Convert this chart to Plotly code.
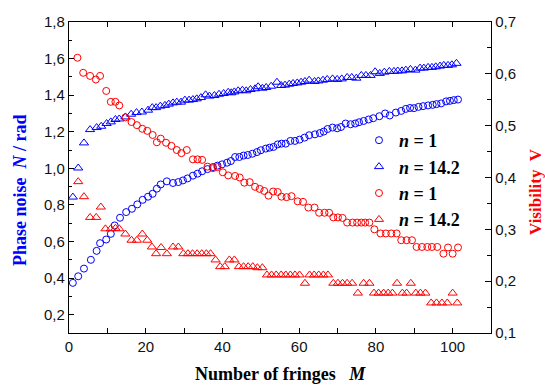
import plotly.graph_objects as go

# ---------------- data ----------------
# Phase noise N, n = 1 (blue circles, left axis)
m_noise_n1 = [1.0, 2.4, 3.9, 5.7, 7.2, 8.1, 9.7, 10.9, 11.9, 13.3, 14.9, 16.4, 17.8, 19.2, 20.6,
              21.8, 22.9, 23.9, 25.5, 27.1, 28.5, 29.7, 30.9, 32.3, 33.5, 34.7, 36.1, 37.5, 38.7,
              39.9, 41.2, 42.2, 43.3, 44.4, 45.5, 46.6, 47.8, 49.0, 50.0, 51.3, 52.3, 53.3, 54.4,
              55.4, 56.5, 57.7, 58.9, 60.1, 61.4, 62.6, 64.1, 65.4, 66.4, 67.4, 68.7, 69.9, 70.9,
              72.1, 73.4, 74.6, 75.6, 76.8, 78.1, 79.3, 80.9, 82.4, 83.6, 85.2, 86.6, 87.8, 88.9,
              89.9, 91.1, 92.3, 93.6, 94.8, 95.8, 97.0, 98.3, 99.3, 100.3, 101.4]
noise_n1 = [0.374, 0.410, 0.452, 0.500, 0.549, 0.591, 0.611, 0.642, 0.688, 0.730, 0.761, 0.779,
            0.803, 0.828, 0.845, 0.861, 0.889, 0.912, 0.929, 0.920, 0.925, 0.934, 0.945, 0.960,
            0.971, 0.984, 0.996, 1.007, 1.015, 1.022, 1.031, 1.040, 1.062, 1.062, 1.070, 1.073,
            1.080, 1.089, 1.099, 1.108, 1.113, 1.117, 1.131, 1.135, 1.135, 1.150, 1.150, 1.157,
            1.168, 1.181, 1.186, 1.193, 1.201, 1.215, 1.223, 1.219, 1.226, 1.245, 1.241, 1.245,
            1.252, 1.259, 1.267, 1.274, 1.285, 1.300, 1.289, 1.305, 1.314, 1.325, 1.330, 1.329,
            1.336, 1.340, 1.344, 1.347, 1.351, 1.355, 1.366, 1.369, 1.373, 1.376]

# Phase noise N, n = 14.2 (blue triangles, left axis)
m_noise_n14 = [1.0, 2.4, 3.9, 5.5, 7.2, 8.4, 9.8, 10.9, 12.1, 13.1, 14.7, 16.2, 17.6, 19.0, 20.6,
               21.7, 22.7, 23.8, 25.0, 26.0, 27.1, 28.1, 29.2, 30.2, 31.3, 32.3, 33.3, 34.4, 35.6,
               36.6, 37.9, 39.1, 40.3, 41.5, 42.3, 43.1, 44.1, 45.2, 46.2, 47.3, 48.5, 49.3, 50.4,
               51.4, 52.7, 54.2, 55.3, 56.3, 57.4, 58.4, 59.5, 60.5, 61.5, 62.6, 64.0, 65.0, 66.2,
               67.3, 68.7, 69.9, 71.1, 72.5, 73.7, 74.9, 76.2, 77.4, 78.6, 79.8, 81.0, 82.2, 83.5,
               84.7, 85.7, 86.8, 87.8, 89.0, 90.3, 91.5, 92.5, 93.6, 94.6, 95.6, 96.7, 97.7, 98.8,
               99.8, 101.0]
noise_n14 = [0.843, 1.002, 1.139, 1.212, 1.223, 1.230, 1.245, 1.254, 1.267, 1.270, 1.281, 1.296,
             1.305, 1.308, 1.318, 1.332, 1.332, 1.340, 1.344, 1.351, 1.358, 1.362, 1.362, 1.373,
             1.373, 1.376, 1.380, 1.387, 1.402, 1.395, 1.398, 1.405, 1.409, 1.416, 1.413, 1.418,
             1.424, 1.427, 1.424, 1.431, 1.435, 1.446, 1.438, 1.442, 1.449, 1.471, 1.453, 1.455,
             1.460, 1.464, 1.467, 1.471, 1.475, 1.482, 1.475, 1.478, 1.482, 1.486, 1.489, 1.486,
             1.489, 1.497, 1.497, 1.493, 1.508, 1.508, 1.508, 1.528, 1.519, 1.526, 1.530, 1.530,
             1.532, 1.533, 1.537, 1.541, 1.537, 1.548, 1.548, 1.552, 1.552, 1.555, 1.559, 1.563,
             1.563, 1.566, 1.574]

# Visibility V, n = 1 (red circles, right axis)
m_vis_n1 = [2.2, 3.7, 5.5, 7.0, 8.1, 9.7, 10.9, 12.1, 13.1, 14.7, 16.3, 17.7, 19.1, 20.4, 21.8,
            22.9, 23.9, 25.3, 26.7, 28.1, 29.3, 30.7, 32.3, 33.5, 34.7, 36.1, 37.5, 38.7, 40.1,
            41.5, 43.3, 44.5, 45.7, 47.1, 48.5, 49.7, 50.9, 52.0, 53.2, 54.4, 55.4, 56.7, 58.0,
            59.6, 61.0, 62.4, 64.0, 65.2, 66.6, 67.8, 68.9, 70.1, 71.3, 72.5, 73.9, 75.1, 76.2,
            77.2, 78.3, 79.6, 81.2, 82.6, 84.0, 85.4, 86.6, 88.0, 89.4, 90.6, 92.0, 93.4, 94.6,
            96.0, 97.6, 98.8, 100.0, 101.4]
vis_n1 = [0.631, 0.602, 0.596, 0.589, 0.596, 0.567, 0.546, 0.546, 0.539, 0.516, 0.507, 0.501,
          0.494, 0.490, 0.482, 0.468, 0.475, 0.467, 0.461, 0.453, 0.447, 0.453, 0.435, 0.435,
          0.434, 0.421, 0.418, 0.420, 0.410, 0.404, 0.403, 0.400, 0.390, 0.391, 0.382, 0.378,
          0.374, 0.365, 0.373, 0.372, 0.363, 0.362, 0.364, 0.354, 0.353, 0.342, 0.342, 0.332,
          0.332, 0.332, 0.323, 0.323, 0.322, 0.313, 0.313, 0.313, 0.313, 0.313, 0.313, 0.300,
          0.292, 0.292, 0.292, 0.292, 0.279, 0.279, 0.279, 0.266, 0.266, 0.266, 0.266, 0.266,
          0.253, 0.265, 0.253, 0.265]

# Visibility V, n = 14.2 (red triangles, right axis)
m_vis_n14 = [2.4, 3.9, 5.5, 7.1, 8.3, 9.5, 10.9, 12.1, 13.1, 14.7, 16.3, 17.7, 19.1, 20.4, 21.6,
             22.7, 24.0, 25.5, 27.1, 28.5, 29.8, 31.0, 32.2, 33.4, 34.6, 35.8, 36.9, 38.2, 39.4,
             40.6, 41.8, 43.1, 44.3, 45.5, 46.7, 47.9, 49.1, 50.4, 51.6, 52.8, 54.0, 55.3, 56.5,
             57.7, 58.9, 60.1, 61.5, 62.7, 63.9, 65.1, 66.3, 67.5, 68.9, 70.1, 71.3, 72.5, 73.8,
             75.3, 76.8, 78.3, 79.5, 80.7, 82.0, 83.2, 84.3, 85.5, 86.9, 88.0, 89.1, 90.4, 91.6,
             92.9, 94.4, 95.8, 97.2, 98.6, 100.0, 101.2]
vis_n14 = [0.392, 0.363, 0.323, 0.323, 0.343, 0.301, 0.301, 0.302, 0.301, 0.291, 0.279, 0.279,
           0.291, 0.279, 0.266, 0.253, 0.265, 0.253, 0.266, 0.266, 0.253, 0.253, 0.253, 0.253,
           0.253, 0.253, 0.253, 0.241, 0.228, 0.228, 0.241, 0.241, 0.228, 0.228, 0.228, 0.228,
           0.226, 0.226, 0.212, 0.212, 0.212, 0.212, 0.212, 0.212, 0.212, 0.212, 0.196, 0.212,
           0.212, 0.212, 0.212, 0.212, 0.196, 0.196, 0.196, 0.196, 0.196, 0.177, 0.196, 0.196,
           0.177, 0.177, 0.177, 0.177, 0.177, 0.196, 0.177, 0.177, 0.196, 0.177, 0.177, 0.177,
           0.158, 0.158, 0.158, 0.158, 0.177, 0.158]

legend_names = ["<b><i>n</i> = 1</b>", "<b><i>n</i> = 14.2</b>",
                "<b><i>n</i> = 1</b>", "<b><i>n</i> = 14.2</b>"]

BLUE = "#0000ff"
RED = "#ff0000"
SERIF = "Liberation Serif, Times New Roman, serif"
SANS = "Liberation Sans, Arial, sans-serif"

fig = go.Figure()
fig.add_trace(go.Scatter(x=m_noise_n1, y=noise_n1, mode="markers", name=legend_names[0],
                         marker=dict(symbol="circle-open", size=7, color=BLUE, line=dict(width=1))))
fig.add_trace(go.Scatter(x=m_noise_n14, y=noise_n14, mode="markers", name=legend_names[1],
                         marker=dict(symbol="triangle-up-open", size=8, color=BLUE, line=dict(width=1))))
fig.add_trace(go.Scatter(x=m_vis_n1, y=vis_n1, mode="markers", name=legend_names[2], yaxis="y2",
                         marker=dict(symbol="circle-open", size=7, color=RED, line=dict(width=1))))
fig.add_trace(go.Scatter(x=m_vis_n14, y=vis_n14, mode="markers", name=legend_names[3], yaxis="y2",
                         marker=dict(symbol="triangle-up-open", size=8, color=RED, line=dict(width=1))))

axis_common = dict(showline=True, linecolor="black", linewidth=1.3, ticks="inside",
                   tickcolor="black", tickwidth=1, showgrid=False, zeroline=False,
                   tickfont=dict(family=SANS, size=15, color="#111"))

fig.update_layout(
    width=545, height=387,
    margin=dict(l=69, r=54, t=22, b=54),
    paper_bgcolor="white", plot_bgcolor="white",
    separators=",.",
    showlegend=True,
    legend=dict(x=(359 - 69) / 422, y=(333 - 122) / 311, xanchor="left", yanchor="top",
                bgcolor="rgba(0,0,0,0)", borderwidth=0, itemwidth=30,
                font=dict(family=SERIF, size=18, color="black"), tracegroupgap=0),
    xaxis=dict(range=[0, 110], dtick=20, tick0=0, ticklen=5, mirror="ticks",
               minor=dict(dtick=10, ticklen=5, ticks="inside", tickcolor="black"),
               **axis_common),
    yaxis=dict(range=[0.1, 1.8], dtick=0.2, tick0=0.2, tickformat=".1f", ticklen=5,
               minor=dict(dtick=0.1, ticklen=3, ticks="inside", tickcolor="black"),
               **axis_common),
    yaxis2=dict(range=[0.1, 0.7], dtick=0.1, tick0=0.1, tickformat=".1f", ticklen=6,
                overlaying="y", side="right",
                minor=dict(dtick=0.05, ticklen=4, ticks="inside", tickcolor="black"),
                **axis_common),
    annotations=[
        dict(text="Phase noise  <i>N</i> / rad", xref="paper", yref="paper",
             x=(20 - 69) / 422, y=(333 - 190) / 311, xanchor="center", yanchor="middle",
             textangle=-90, showarrow=False,
             font=dict(family=SERIF, size=18, color=BLUE, weight="bold")),
        dict(text="Visibility  V", xref="paper", yref="paper",
             x=(535 - 69) / 422, y=(333 - 192) / 311, xanchor="center", yanchor="middle",
             textangle=-90, showarrow=False,
             font=dict(family=SERIF, size=17, color=RED, weight="bold")),
        dict(text="Number of fringes   <i>M</i>", xref="paper", yref="paper",
             x=(280 - 69) / 422, y=(333 - 374) / 311, xanchor="center", yanchor="middle",
             showarrow=False,
             font=dict(family=SERIF, size=18, color="black", weight="bold")),
    ],
)

fig.write_html("out.html")
